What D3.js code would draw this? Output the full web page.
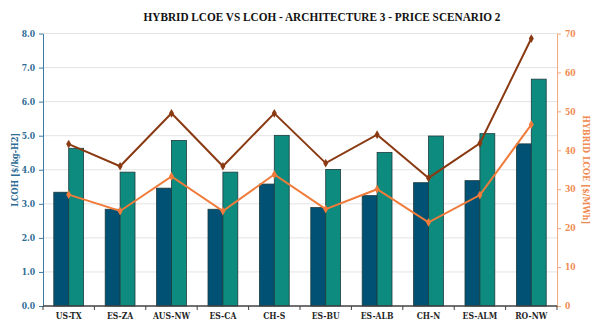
<!DOCTYPE html>
<html><head><meta charset="utf-8">
<script src="https://cdn.jsdelivr.net/npm/d3@7"></script>
<style>body{margin:0;background:#fff}svg{display:block}</style>
</head><body><div id="c"></div>
<script>
const categories = ["US-TX","ES-ZA","AUS-NW","ES-CA","CH-S","ES-BU","ES-ALB","CH-N","ES-ALM","RO-NW"];
const lcohA = [3.34,2.84,3.46,2.84,3.58,2.89,3.24,3.62,3.68,4.76];
const lcohB = [4.63,3.93,4.86,3.93,5.01,4.01,4.51,4.99,5.06,6.66];
const lcoeA = [41.6,35.9,49.5,35.9,49.5,36.7,44.0,32.9,41.8,68.7];
const lcoeB = [28.6,24.4,33.3,24.4,33.8,24.9,30.0,21.5,28.5,46.6];
const leftTicks = [0,1,2,3,4,5,6,7,8];
const rightTicks = [0,10,20,30,40,50,60,70];

const W=600,H=327;
const m={l:43,r:43,t:33.5,b:21};
const font='"DejaVu Serif Condensed","DejaVu Serif",serif';
const svg=d3.select("#c").append("svg").attr("width",W).attr("height",H);
const x=d3.scaleBand().domain(categories).range([m.l,W-m.r]).paddingInner(0.42).paddingOuter(0.21);
const step=x.step();
const yL=d3.scaleLinear().domain([0,8]).range([H-m.b,m.t]);
const yR=d3.scaleLinear().domain([0,70]).range([H-m.b,m.t]);

// grid
svg.append("g").selectAll("line").data(leftTicks.slice(1)).join("line")
 .attr("x1",m.l).attr("x2",W-m.r).attr("y1",d=>yL(d)).attr("y2",d=>yL(d))
 .attr("stroke","#e3e3e3").attr("stroke-width",1);

// bars
const bw=x.bandwidth()/2;
const g=svg.append("g");
g.selectAll("rect.a").data(categories).join("rect")
 .attr("x",d=>x(d)).attr("width",bw)
 .attr("y",(d,i)=>yL(lcohA[i])).attr("height",(d,i)=>yL(0)-yL(lcohA[i]))
 .attr("fill","#005173").attr("stroke","#1d3b3f").attr("stroke-width",0.8);
g.selectAll("rect.b").data(categories).join("rect")
 .attr("x",d=>x(d)+bw).attr("width",bw)
 .attr("y",(d,i)=>yL(lcohB[i])).attr("height",(d,i)=>yL(0)-yL(lcohB[i]))
 .attr("fill","#0d8b7e").attr("stroke","#1d3b3f").attr("stroke-width",0.8);

// axes
const axL=d3.axisLeft(yL).tickValues(leftTicks).tickFormat(d3.format(".1f")).tickSize(4).tickSizeOuter(0);
const gl=svg.append("g").attr("transform",`translate(${m.l},0)`).call(axL);
gl.select(".domain").attr("stroke","#3b7aa5");
gl.selectAll(".tick line").attr("stroke","#3b7aa5");
gl.selectAll("text").attr("fill","#2e6b94").attr("font-family",font).attr("font-weight","bold").attr("font-size",8.5).attr("x",-8);

const axR=d3.axisRight(yR).tickValues(rightTicks).tickSize(4).tickSizeOuter(0);
const gr=svg.append("g").attr("transform",`translate(${W-m.r},0)`).call(axR);
gr.select(".domain").attr("stroke","#f5a97f");
gr.selectAll(".tick line").attr("stroke","#f5a97f");
gr.selectAll("text").attr("fill","#f08a50").attr("font-family",font).attr("font-weight","bold").attr("font-size",8.5).attr("x",8);

// bottom axis
const gb=svg.append("g").attr("transform",`translate(0,${H-m.b})`);
gb.append("line").attr("x1",m.l).attr("x2",W-m.r).attr("stroke","#404040").attr("stroke-width",1.3);
gb.selectAll("line.t").data(d3.range(categories.length+1)).join("line")
 .attr("x1",i=>m.l+i*step).attr("x2",i=>m.l+i*step).attr("y1",0).attr("y2",4).attr("stroke","#404040");
gb.selectAll("text").data(categories).join("text")
 .attr("x",d=>x(d)+x.bandwidth()/2).attr("y",12.5).attr("text-anchor","middle")
 .attr("font-family",font).attr("font-weight","bold").attr("font-size",8.5).attr("fill","#262626").text(d=>d);

// lines
function drawLine(vals,color){
 const pts=categories.map((c,i)=>[x(c)+x.bandwidth()/2,yR(vals[i])]);
 svg.append("path").attr("d",d3.line()(pts)).attr("fill","none").attr("stroke",color).attr("stroke-width",2);
 svg.append("g").selectAll("path").data(pts).join("path")
  .attr("d",d3.symbol(d3.symbolDiamond,22)()).attr("transform",d=>`translate(${d[0]},${d[1]})`).attr("fill",color);
}
drawLine(lcoeA,"#8a3a12");
drawLine(lcoeB,"#f07b3a");

// titles
svg.append("text").attr("x",322).attr("y",20.5).attr("text-anchor","middle")
 .attr("font-family",'"Liberation Serif",serif').attr("font-weight","bold").attr("font-size",13.5).attr("fill","#111")
 .attr("textLength",357).attr("lengthAdjust","spacingAndGlyphs")
 .text("HYBRID LCOE VS LCOH - ARCHITECTURE 3 - PRICE SCENARIO 2");
svg.append("text").attr("transform",`translate(18,${(m.t+H-m.b)/2}) rotate(-90)`).attr("text-anchor","middle")
 .attr("font-family",font).attr("font-weight","bold").attr("font-size",9).attr("fill","#2e6b94").text("LCOH [$/kg-H2]");
svg.append("text").attr("transform",`translate(583,${(m.t+H-m.b)/2}) rotate(90)`).attr("text-anchor","middle")
 .attr("font-family",font).attr("font-weight","bold").attr("font-size",9).attr("fill","#f08a50").text("HYBRID LCOE [$/MWh]");
</script></body></html>
